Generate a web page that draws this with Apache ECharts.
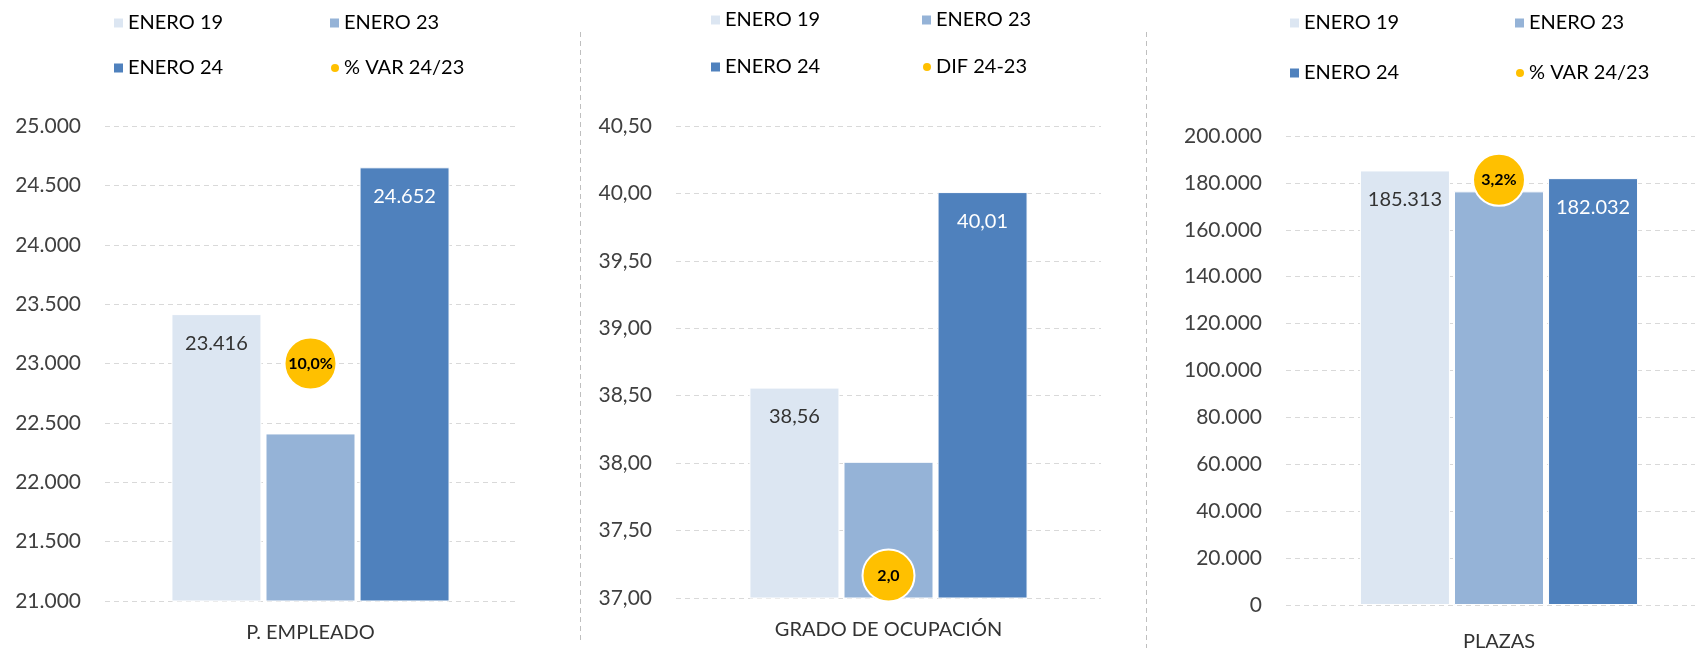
<!DOCTYPE html>
<html>
<head>
<meta charset="utf-8">
<script src="https://cdn.jsdelivr.net/npm/echarts@6/dist/echarts.min.js"></script>
<style>
html,body{margin:0;padding:0;background:#fff;}
#chart{width:1695px;height:652px;}
</style>
</head>
<body>
<div id="chart"></div>
<script>
// ---- data ----
const categories = ['P. EMPLEADO', 'GRADO DE OCUPACIÓN', 'PLAZAS'];
const enero19 = [23416, 38.56, 185313];
const enero23 = [22411, 38.01, 176388];
const enero24 = [24652, 40.01, 182032];
const variation = [10.0, 2.0, 3.2];
const variationNames = ['% VAR 24/23', 'DIF 24-23', '% VAR 24/23'];
const variationSuffix = ['%', '', '%'];
const yMin = [21000, 37, 0];
const yMax = [25000, 40.5, 200000];
const yStep = [500, 0.5, 20000];
const tickDecimals = [0, 2, 0];
const valueDecimals = [0, 2, 0];
const barNames = ['ENERO 19', 'ENERO 23', 'ENERO 24'];

// ---- layout / style ----
const FONT = 'Lato';
const colors = ['#DCE6F2', '#95B3D7', '#4F81BD'];
const yellow = '#FFC000';
const grids = [
  {left: 105, top: 126, width: 411, height: 475},
  {left: 676, top: 126, width: 425, height: 472},
  {left: 1286, top: 136, width: 426, height: 469}
];
const secMax = [20, 42, 3.53];
const legendPos = [
  {cols: [128, 344], rows: [23, 68]},
  {cols: [725, 936], rows: [20, 67]},
  {cols: [1304, 1529], rows: [23, 73]}
];
const catMargin = [22, 22, 27];

function es(v, d) {
  const s = Math.abs(v).toFixed(d);
  const parts = s.split('.');
  const i = parts[0].replace(/\B(?=(\d{3})+(?!\d))/g, '.');
  return (v < 0 ? '-' : '') + (parts[1] ? i + ',' + parts[1] : i);
}

const option = {
  animation: false,
  backgroundColor: '#fff',
  textStyle: {fontFamily: FONT},
  grid: [], xAxis: [], yAxis: [], series: [], legend: [],
  graphic: [
    {type: 'line', shape: {x1: 580.5, y1: 32, x2: 580.5, y2: 640}, style: {stroke: '#bfbfbf', lineWidth: 1, lineDash: [5, 4]}},
    {type: 'line', shape: {x1: 1146.5, y1: 32, x2: 1146.5, y2: 648}, style: {stroke: '#bfbfbf', lineWidth: 1, lineDash: [5, 4]}}
  ]
};

for (let p = 0; p < 3; p++) {
  option.grid.push(Object.assign({containLabel: false, outerBoundsMode: 'none'}, grids[p]));
  option.xAxis.push({
    type: 'category', gridIndex: p, data: [categories[p]],
    axisLine: {show: false}, axisTick: {show: false}, splitLine: {show: false},
    axisLabel: {fontFamily: FONT, fontSize: 20, color: '#333', margin: catMargin[p]}
  });
  option.yAxis.push({
    type: 'value', gridIndex: p, min: yMin[p], max: yMax[p], interval: yStep[p],
    axisLine: {show: false}, axisTick: {show: false},
    splitLine: {show: true, lineStyle: {color: '#d9d9d9', width: 1, type: [5, 4]}},
    axisLabel: {fontFamily: FONT, fontSize: 21, color: '#404040', margin: 24,
      formatter: (v) => es(v, tickDecimals[p])}
  });
  option.yAxis.push({
    type: 'value', gridIndex: p, min: 0, max: secMax[p], show: false,
    splitLine: {show: false}
  });
  const vals = [enero19, enero23, enero24];
  for (let s = 0; s < 3; s++) {
    const lbl = s === 1 ? {show: false} : {
      show: true, position: 'insideTop', distance: 19,
      fontFamily: FONT, fontSize: 20, color: s === 0 ? '#333' : '#fff',
      formatter: (o) => es(o.value, valueDecimals[p])
    };
    option.series.push({
      type: 'bar', name: barNames[s], xAxisIndex: p, yAxisIndex: 2 * p,
      data: [vals[s][p]], barWidth: 90, barGap: '4.5%',
      itemStyle: {color: colors[s], borderColor: '#fff', borderWidth: 1},
      label: lbl, z: 2
    });
  }
  option.series.push({
    type: 'scatter', name: variationNames[p], xAxisIndex: p, yAxisIndex: 2 * p + 1,
    data: [variation[p]], symbol: 'circle', symbolSize: 52, z: 5,
    itemStyle: {color: yellow, borderColor: '#fff', borderWidth: 2, opacity: 1},
    label: {show: true, position: 'inside', fontFamily: FONT, fontSize: 16, fontWeight: 'bold',
      color: '#000', formatter: (o) => es(o.value, 1) + variationSuffix[p]}
  });
  const items = [barNames[0], barNames[1], barNames[2], variationNames[p]];
  items.forEach((name, k) => {
    const col = k % 2, row = Math.floor(k / 2);
    const isDot = k === 3;
    const iw = isDot ? 8 : 9;
    option.legend.push({
      data: [{name: name, icon: isDot ? 'circle' : 'rect'}],
      left: legendPos[p].cols[col] - iw - 5,
      top: legendPos[p].rows[row] - 12,
      padding: 0, itemWidth: iw, itemHeight: iw, selectedMode: false,
      itemStyle: {borderWidth: 0},
      textStyle: {fontFamily: FONT, fontSize: 20, color: '#000', lineHeight: 24}
    });
  });
}

const chart = echarts.init(document.getElementById('chart'), null, {renderer: 'canvas'});
chart.setOption(option);
</script>
</body>
</html>
